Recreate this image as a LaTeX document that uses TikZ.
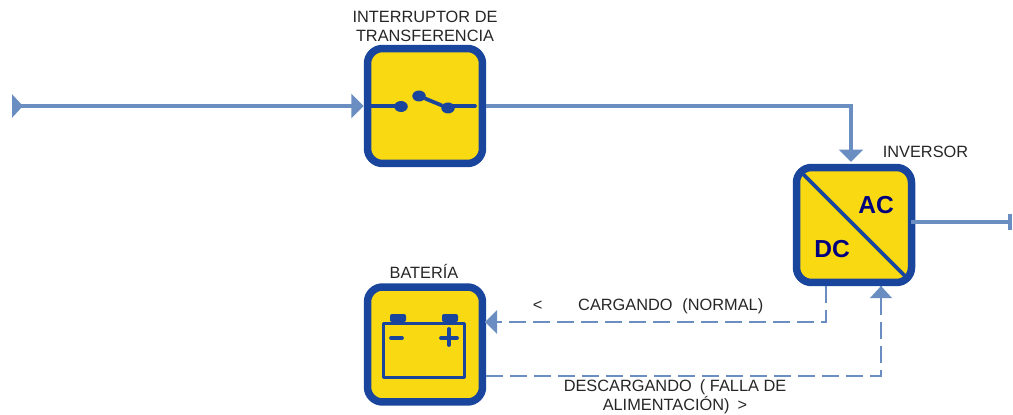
\documentclass[tikz,border=0pt]{standalone}
\usepackage{fontspec}
\setmainfont{Liberation Sans}
\usetikzlibrary{arrows.meta}
\usetikzlibrary{positioning}
\usetikzlibrary{calc}
\usetikzlibrary{shapes.geometric}
\definecolor{boxfill}{HTML}{F9DA12}
\definecolor{boxblue}{HTML}{1A459C}
\definecolor{linkblue}{HTML}{6A8EC2}
\definecolor{acdc}{HTML}{00007F}
\tikzset{
  unitbox/.style={draw=boxblue,fill=boxfill,line width=0.15cm,rounded corners=0.3cm,minimum size=2.3cm,inner sep=0pt},
  caption/.style={font=\fontsize{9.3pt}{10.8pt}\selectfont,align=center,text=black!85,inner sep=0pt},
  powerlabel/.style={font=\bfseries\fontsize{14pt}{14pt}\selectfont,text=acdc,inner sep=0pt},
  link/.style={draw=linkblue,line width=0.09cm},
  linkd/.style={draw=linkblue,line width=0.04cm,dash pattern=on 0.34cm off 0.14cm},
  tipfull/.tip={Triangle[length=0.25cm,width=0.48cm,color=linkblue]},
  glyph/.style={draw=boxblue,line width=0.075cm,line cap=round},
  contact/.style={fill=boxblue,ellipse,minimum width=0.27cm,minimum height=0.22cm,inner sep=0pt}
}
\begin{document}
\begin{tikzpicture}[x=0.02cm,y=-0.02cm]
  \useasboundingbox (0,0) rectangle (1013,415);
  \node[unitbox] (switch) at (425,106) {};
  \node[unitbox] (inverter) at (854,225) {};
  \node[unitbox] (battery) at (425,344.5) {};

  \coordinate (source) at (12,106);
  \coordinate (load) at (1012,222);
  \coordinate (bend) at (851,106);
  \coordinate (intop) at (851,162);
  \coordinate (chargeout) at (826,286);
  \coordinate (chargein) at (485,322);
  \coordinate (dischargeout) at (486,376);
  \coordinate (dischargein) at (881,286);
  \coordinate (outstart) at (911,222);

  \draw[link,{Triangle[reversed,length=0.22cm,width=0.46cm,color=linkblue]}-tipfull] (source) -- (switch.west);
  \draw[link,-tipfull] (switch.east) -- (bend) -- (intop);
  \draw[link,-{Bar[width=0.34cm,line width=0.08cm,color=linkblue]}] (outstart) -- (load);
  \draw[linkd] (chargeout) |- (chargein);
  \draw[linkd] (dischargeout) -| (dischargein);
  \fill[linkblue] (chargein) -- ++(12,-12) -- ++(0,24) -- cycle;
  \fill[linkblue] (dischargein) -- ++(-11,12) -- ++(22,0) -- cycle;

  \coordinate (swleft) at (367,106);
  \coordinate (swright) at (475,106);
  \node[contact] (contacta) at (401,106.5) {};
  \node[contact] (contactb) at (419,96) {};
  \node[contact] (contactc) at (448,108) {};
  \draw[glyph] (swleft) -- (contacta.center |- swleft);
  \draw[glyph] (contactb) -- (contactc);
  \draw[glyph] (contactc.center |- swright) -- (swright);

  \draw[draw=boxblue,line width=0.075cm] ($(inverter.north west)+(8,8)$) -- ($(inverter.south east)+(-8,-8)$);
  \node[powerlabel] (ac) at (876,205) {AC};
  \node[powerlabel] (dc) at (832,249) {DC};

  \draw[glyph,line join=round] (383.5,323.5) rectangle (464.5,377.5);
  \fill[boxblue,rounded corners=0.04cm] (390,322) |- (406,314) |- cycle;
  \fill[boxblue,rounded corners=0.04cm] (442,322) |- (458,314) |- cycle;
  \draw[glyph] (391,338) -- (402,338);
  \draw[glyph] (441,338) -- (457,338);
  \draw[glyph] (449,329) -- (449,345);

  \node[caption] (switchlabel) at (425,26.5) {INTERRUPTOR DE\\TRANSFERENCIA};
  \node[caption] (inverterlabel) at (925.5,152) {INVERSOR};
  \node[caption] (batterylabel) at (424,271) {BATERÍA};
  \node[caption] (chargelabel) at (648,306) {<\hspace{2.2em}CARGANDO\hspace{0.6em}(NORMAL)};
  \node[caption] (dischargelabel) at (675,396.5) {DESCARGANDO\hspace{0.5em}( FALLA DE\\ALIMENTACIÓN)\hspace{0.5em}>};
\end{tikzpicture}
\end{document}
